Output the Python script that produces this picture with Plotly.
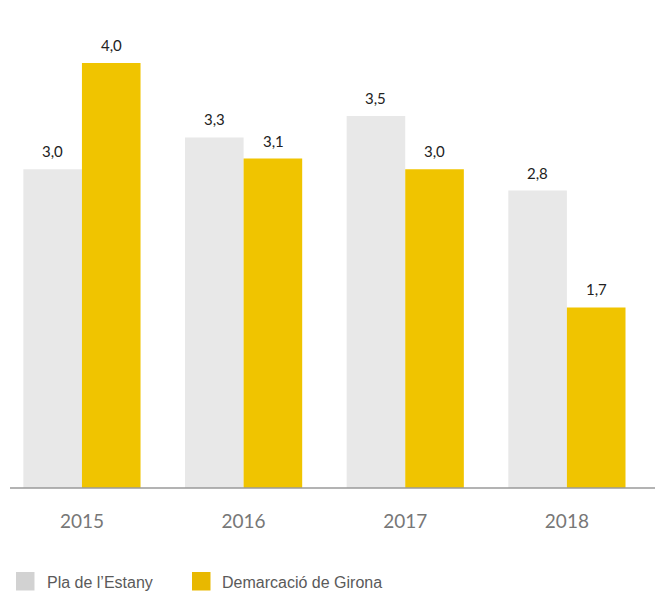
import plotly.graph_objects as go

years = ["2015", "2016", "2017", "2018"]
pla_estany = [3.0, 3.3, 3.5, 2.8]
demarcacio_girona = [4.0, 3.1, 3.0, 1.7]
series_names = ["Pla de l’Estany", "Demarcació de Girona"]

GREY = "#e8e8e8"
YELLOW = "#f0c400"
GREY_LEG = "#d2d2d2"
YELLOW_LEG = "#e8b800"

W, H = 661, 594
ML, MR, MT, MB = 10, 6, 20, 106
PW = W - ML - MR
PH = H - MT - MB

fig = go.Figure()
fig.add_trace(go.Bar(x=years, y=pla_estany, name=series_names[0],
                     marker=dict(color=GREY, line=dict(width=0))))
fig.add_trace(go.Bar(x=years, y=demarcacio_girona, name=series_names[1],
                     marker=dict(color=YELLOW, line=dict(width=0))))

annotations = []
for vals, shift in ((pla_estany, -29.5), (demarcacio_girona, 29.5)):
    for i, v in enumerate(vals):
        annotations.append(dict(
            x=i, y=v, xref="x", yref="y", xshift=shift, yshift=7,
            yanchor="bottom", xanchor="center", showarrow=False,
            text=f"{v:.1f}".replace(".", ","),
            font=dict(family="Lato, Open Sans, sans-serif", size=15, color="#222222")))

def px2px(x):
    return (x - ML) / PW

def py2py(y):
    return (H - MB - y) / PH

shapes = [
    dict(type="line", xref="paper", yref="paper", x0=0, x1=1, y0=0, y1=0,
         line=dict(color="#9a9a9a", width=1.5)),
    dict(type="rect", xref="paper", yref="paper",
         x0=px2px(16), x1=px2px(34.5), y0=py2py(572), y1=py2py(590.5),
         fillcolor=GREY_LEG, line=dict(width=0)),
    dict(type="rect", xref="paper", yref="paper",
         x0=px2px(192), x1=px2px(210.5), y0=py2py(572), y1=py2py(590.5),
         fillcolor=YELLOW_LEG, line=dict(width=0)),
]
for name, xp in ((series_names[0], 45), (series_names[1], 220)):
    annotations.append(dict(
        x=px2px(xp), y=py2py(582), xref="paper", yref="paper",
        xanchor="left", yanchor="middle", showarrow=False, text=name,
        font=dict(family="Liberation Sans, Arial, sans-serif", size=16, color="#5a5a5a")))

fig.update_layout(
    width=W, height=H,
    margin=dict(l=ML, r=MR, t=MT, b=MB),
    paper_bgcolor="white", plot_bgcolor="white",
    barmode="group", bargap=0.275, bargroupgap=0,
    showlegend=False,
    xaxis=dict(type="category", range=[-0.445, 3.545], showgrid=False, zeroline=False,
               showline=False, ticks="", ticklabelstandoff=20,
               tickfont=dict(family="Lato, Open Sans, sans-serif", size=19, color="#777777")),
    yaxis=dict(range=[0, PH / 106.25], showgrid=False, zeroline=False,
               showticklabels=False, showline=False),
    annotations=annotations,
    shapes=shapes,
)

fig.write_html("out.html", config={"displayModeBar": False},
               post_script="document.body.style.margin='0';document.body.style.overflow='hidden';")
